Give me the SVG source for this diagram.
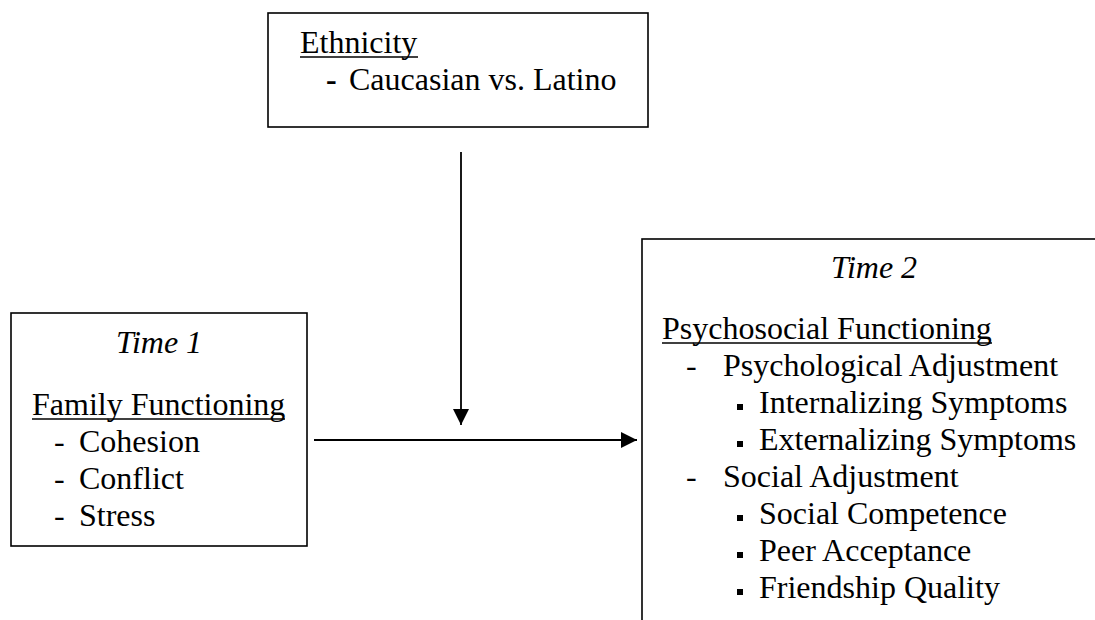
<svg xmlns="http://www.w3.org/2000/svg" width="1095" height="620" viewBox="0 0 1095 620">
<defs>
<style>
.box{fill:#fff;stroke:#000;stroke-width:1.6}
.t{font-family:"Liberation Serif","Times New Roman",serif;font-size:32px;fill:#000}
.i{font-style:italic}
.b{font-weight:bold}
.ul{stroke:#000;stroke-width:1.6}
.conn{stroke:#000;stroke-width:1.8;fill:none}
.blt{fill:#000}
</style>
<marker id="ah" viewBox="0 0 16 16" refX="16" refY="8" markerWidth="16" markerHeight="16" markerUnits="userSpaceOnUse" orient="auto">
<path d="M0,0 L16,8 L0,16 Z" fill="#000"/>
</marker>
</defs>
<rect width="1095" height="620" fill="#fff"/>

<g id="ethnicity">
<rect class="box" x="268" y="13" width="380" height="114"/>
<text class="t" x="300" y="53">Ethnicity</text>
<line class="ul" x1="300" y1="57" x2="418" y2="57"/>
<text class="t b" x="326" y="90">-</text>
<text class="t" x="349" y="90">Caucasian vs. Latino</text>
</g>

<g id="time1">
<rect class="box" x="11" y="313" width="296" height="233"/>
<text class="t i" x="159" y="353" text-anchor="middle">Time 1</text>
<text class="t" x="32" y="415">Family Functioning</text>
<line class="ul" x1="32" y1="419" x2="285" y2="419"/>
<text class="t" x="54" y="452">-</text>
<text class="t" x="79" y="452">Cohesion</text>
<text class="t" x="54" y="489">-</text>
<text class="t" x="79" y="489">Conflict</text>
<text class="t" x="54" y="526">-</text>
<text class="t" x="79" y="526">Stress</text>
</g>

<g id="time2">
<rect class="box" x="642" y="239" width="500" height="450"/>
<text class="t i" x="874" y="278" text-anchor="middle">Time 2</text>
<text class="t" x="662" y="339">Psychosocial Functioning</text>
<line class="ul" x1="662" y1="343" x2="992" y2="343"/>
<text class="t" x="686" y="376">-</text>
<text class="t" x="723" y="376">Psychological Adjustment</text>
<rect class="blt" x="737" y="404" width="6" height="6"/>
<text class="t" x="759" y="413">Internalizing Symptoms</text>
<rect class="blt" x="737" y="441" width="6" height="6"/>
<text class="t" x="759" y="450">Externalizing Symptoms</text>
<text class="t" x="686" y="487">-</text>
<text class="t" x="723" y="487">Social Adjustment</text>
<rect class="blt" x="737" y="515" width="6" height="6"/>
<text class="t" x="759" y="524">Social Competence</text>
<rect class="blt" x="737" y="552" width="6" height="6"/>
<text class="t" x="759" y="561">Peer Acceptance</text>
<rect class="blt" x="737" y="589" width="6" height="6"/>
<text class="t" x="759" y="598">Friendship Quality</text>
</g>

<g id="connectors">
<line class="conn" x1="461" y1="152" x2="461" y2="425" marker-end="url(#ah)"/>
<line class="conn" x1="314" y1="440" x2="637" y2="440" marker-end="url(#ah)"/>
</g>
</svg>
